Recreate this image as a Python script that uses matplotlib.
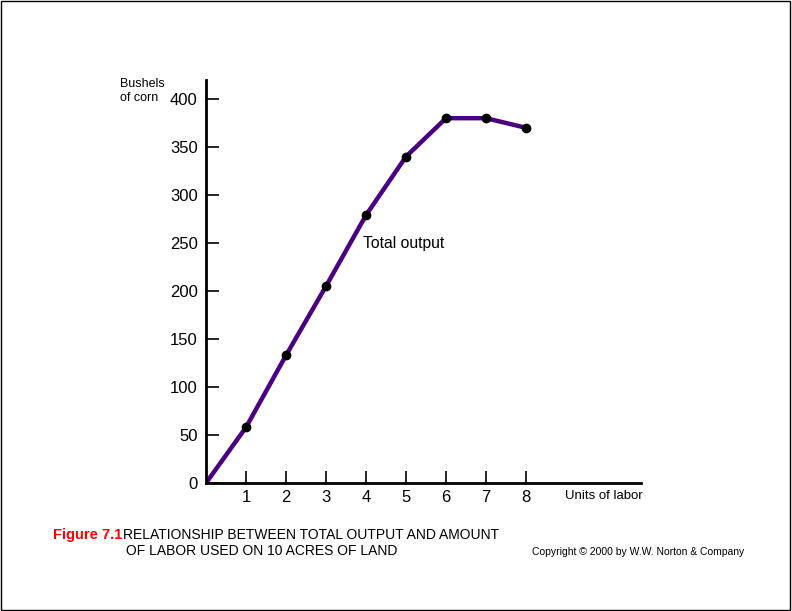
import matplotlib.pyplot as plt
from matplotlib.patches import Rectangle

plt.rcParams['font.family'] = ['Liberation Sans', 'DejaVu Sans']

labor = [0, 1, 2, 3, 4, 5, 6, 7, 8]
output = [0, 58, 133, 205, 279, 340, 380, 380, 370]
xticks = [1, 2, 3, 4, 5, 6, 7, 8]
yticks = [0, 50, 100, 150, 200, 250, 300, 350, 400]

fig = plt.figure(figsize=(7.92, 6.11), dpi=100)
ax = fig.add_axes([206 / 792, 128 / 611, 435 / 792, 403 / 611])

ax.plot(labor, output, color='#4b0082', linewidth=3.2, solid_capstyle='butt')
ax.plot(labor[1:], output[1:], 'o', color='black', markersize=6)

ax.set_xlim(0, 435 / 40)
ax.set_ylim(0, 403 / 0.96)
ax.set_xticks(xticks)
ax.set_yticks(yticks)
ax.tick_params(direction='in', length=9, width=1.2, labelsize=12, color='black')
ax.tick_params(axis='x', pad=5)
ax.tick_params(axis='y', pad=6)
for s in ['top', 'right']:
    ax.spines[s].set_visible(False)
for s in ['left', 'bottom']:
    ax.spines[s].set_linewidth(2)

# curve label
ax.text(3.93, 249, 'Total output', fontsize=11.3, va='center', ha='left')

fig.text(120 / 792, 1 - 91 / 611, 'Bushels\nof corn', fontsize=9, ha='left',
         va='center', linespacing=1.15)
fig.text(565 / 792, 1 - 496 / 611, 'Units of labor', fontsize=9.5, ha='left',
         va='center')

fig.text(53 / 792, 1 - 535 / 611, 'Figure 7.1', color='red', fontsize=10.5,
         fontweight='bold', ha='left', va='center')
fig.text(123 / 792, 1 - 535 / 611, 'RELATIONSHIP BETWEEN TOTAL OUTPUT AND AMOUNT',
         fontsize=10, ha='left', va='center')
fig.text(126 / 792, 1 - 551 / 611, 'OF LABOR USED ON 10 ACRES OF LAND',
         fontsize=10, ha='left', va='center')
fig.text(532 / 792, 1 - 552 / 611, 'Copyright \u00a9 2000 by W.W. Norton & Company',
         fontsize=7.5, ha='left', va='center')

fig.patches.append(Rectangle((0.001, 0.001), 0.997, 0.997, transform=fig.transFigure,
                             fill=False, edgecolor='black', linewidth=1))

fig.savefig('out.png', dpi=100)
